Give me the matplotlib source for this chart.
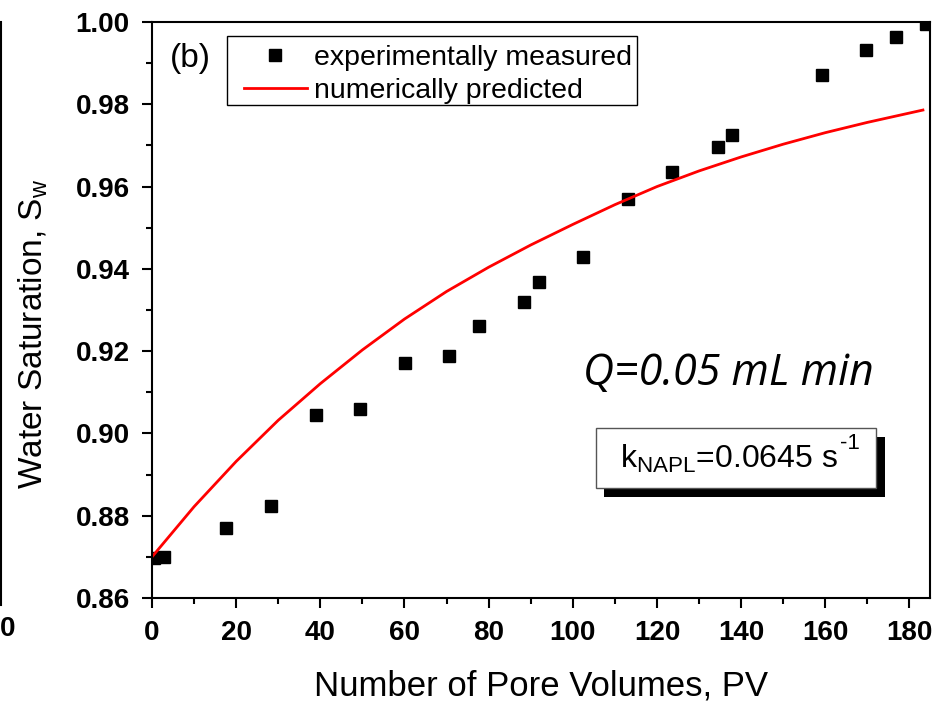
import matplotlib
matplotlib.use("Agg")
import matplotlib.pyplot as plt
from matplotlib.ticker import MultipleLocator, FormatStrFormatter
from matplotlib.patches import Rectangle
from matplotlib.lines import Line2D

plt.rcParams['font.family'] = ['Liberation Sans', 'DejaVu Sans']
plt.rcParams['mathtext.fontset'] = 'custom'
plt.rcParams['mathtext.rm'] = 'Liberation Sans'
plt.rcParams['mathtext.it'] = 'Liberation Sans:italic'
plt.rcParams['mathtext.bf'] = 'Liberation Sans:bold'

# Measured water saturation vs. pore volumes flushed
pv_measured = [0.5, 2.9, 17.6, 28.2, 38.9, 49.4, 60.1, 70.6, 77.7, 88.3,
               91.9, 102.5, 113.2, 123.6, 134.4, 137.9, 159.1, 169.7, 176.7, 184.0]
sw_measured = [0.8697, 0.8700, 0.8771, 0.8824, 0.9045, 0.9059, 0.9171, 0.9187, 0.9262, 0.9319,
               0.9367, 0.9430, 0.9569, 0.9635, 0.9695, 0.9725, 0.9870, 0.9931, 0.9964, 0.9995]

# Numerical model prediction
pv_model = [0, 10, 20, 30, 40, 50, 60, 70, 80, 90, 100, 110, 120, 130, 140,
            150, 160, 170, 183.2]
sw_model = [0.8700, 0.8822, 0.8932, 0.9032, 0.9121, 0.9203, 0.9278, 0.9345, 0.9404,
            0.9458, 0.9508, 0.9556, 0.9600, 0.9638, 0.9672, 0.9703, 0.9731, 0.9756, 0.9786]

x_ticks = [0, 20, 40, 60, 80, 100, 120, 140, 160, 180]
y_ticks = [0.86, 0.88, 0.90, 0.92, 0.94, 0.96, 0.98, 1.00]

W, H = 945, 705
fig = plt.figure(figsize=(W / 100, H / 100), dpi=100)
ax = fig.add_axes([152 / W, 1 - 598 / H, 778.5 / W, 576 / H])

ax.plot(pv_measured, sw_measured, linestyle='none', marker='s', markersize=9,
        color='black', label='experimentally measured')
ax.plot(pv_model, sw_model, color='red', linewidth=2, label='numerically predicted')

ax.set_xlim(0, 185)
ax.set_ylim(0.86, 1.00)
ax.set_xticks(x_ticks)
ax.set_yticks(y_ticks)
ax.xaxis.set_minor_locator(MultipleLocator(10))
ax.yaxis.set_minor_locator(MultipleLocator(0.01))
ax.yaxis.set_major_formatter(FormatStrFormatter('%.2f'))
ax.xaxis.set_major_formatter(FormatStrFormatter('%d'))

for s in ax.spines.values():
    s.set_linewidth(1.5)
ax.tick_params(which='major', direction='out', length=7.5, width=1.5,
               labelsize=20, pad=8.5)
ax.tick_params(which='minor', direction='out', length=4, width=1.5)
for lbl in ax.get_xticklabels() + ax.get_yticklabels():
    lbl.set_fontweight('bold')

ax.set_xlabel('Number of Pore Volumes, PV', fontsize=25, labelpad=17)
ax.set_ylabel(r'Water Saturation, S$_\mathregular{w}$', fontsize=24)
ax.yaxis.set_label_coords(-0.131, 0.458)

# Legend: entries without frame, frame drawn as a plain rectangle
ax.add_patch(Rectangle((0.096, 0.8554), 0.5267, 0.1203, transform=ax.transAxes,
                       facecolor='white', edgecolor='black', linewidth=1.0, zorder=4))
leg = ax.legend(loc='center left', bbox_to_anchor=(0.1182, 0.9089), borderaxespad=0,
                fontsize=20.5, frameon=False, borderpad=0, handlelength=2.2,
                handletextpad=0.25, labelspacing=0.26)
leg.set_zorder(5)

ax.text(0.0231, 0.9358, '(b)', transform=ax.transAxes, fontsize=24,
        ha='left', va='center')

ax.text(0.5536, 0.3698, 'Q=0.05 mL min', transform=ax.transAxes, fontsize=31,
        family='Open Sans', style='italic', ha='left', va='baseline')

# Rate constant box with drop shadow
ax.add_patch(Rectangle((0.5806, 0.1759), 0.3609, 0.1041, transform=ax.transAxes,
                       facecolor='black', edgecolor='none', zorder=4))
ax.add_patch(Rectangle((0.5703, 0.191), 0.3597, 0.1047, transform=ax.transAxes,
                       facecolor='white', edgecolor='#555555', linewidth=1, zorder=5))
k_txt = ax.text(0.6012, 0.2252, r'k$_\mathregular{NAPL}$=0.0645 s',
                transform=ax.transAxes, fontsize=23, ha='left', va='baseline', zorder=6)
ax.annotate('-1', xy=(1.0, 1.0), xycoords=k_txt, xytext=(1.5, 0),
            textcoords='offset points', fontsize=16, ha='left', va='center', zorder=6)

# Edge of the neighbouring panel
fig.add_artist(Line2D([1.5 / W, 1.5 / W], [1 - 22 / H, 1 - 605 / H],
                      transform=fig.transFigure, color='black', linewidth=1.5))
fig.text(15 / W, 1 - 629 / H, '0', ha='right', va='center', fontsize=20,
         fontweight='bold')

fig.savefig('out.png', dpi=100, facecolor='white')
